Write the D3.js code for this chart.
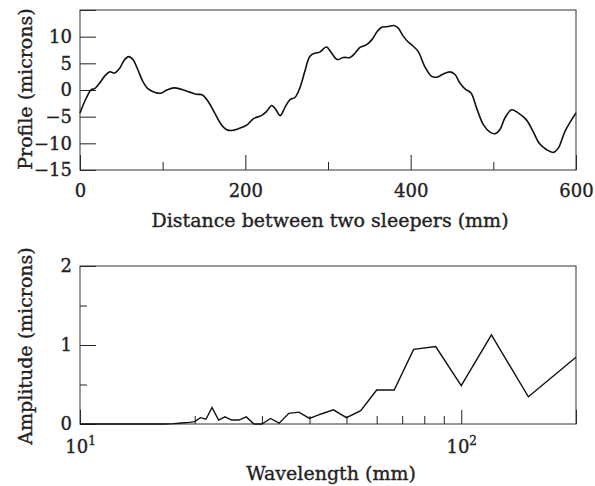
<!DOCTYPE html>
<html>
<head>
<meta charset="utf-8">
<script src="https://d3js.org/d3.v7.min.js"></script>
<style>
  body { margin: 0; background: #fff; }
  text { font-family: "DejaVu Serif", serif; fill: #222; stroke: #222; stroke-width: 0.35px; }
</style>
</head>
<body>
<svg id="chart" width="595" height="486"></svg>
<script>
// top panel: rail profile between two sleepers
const profileX = [0, 7.6, 13.7, 17.7, 23.8, 29.8, 35.9, 42, 48, 54, 59, 64, 70, 76, 82, 90, 97.6,
  104.5, 113.7, 122.6, 132.6, 140.7, 147.6, 154.8, 162.9, 171, 177, 183.9, 191, 201.6, 209.6,
  219.8, 225.8, 231.9, 237, 242, 248, 254, 260, 266, 272, 278, 284, 290, 298, 304.5, 311,
  318.5, 326.6, 332.6, 338.7, 346.8, 352.9, 359.7, 364.9, 373, 379.8, 385, 391, 397, 401,
  409, 417, 425, 431.5, 439.5, 447.6, 453.6, 459.6, 465.7, 473, 479.8, 487.9, 496, 502,
  508, 514, 522, 530, 540, 548, 556, 564.5, 572.5, 578.6, 586.7, 600];
const profileY = [-4.3, -1.5, 0.06, 0.25, 1.3, 2.6, 3.4, 3.2, 4.1, 5.7, 6.25, 5.7, 3.8, 1.6, 0.25, -0.4, -0.6,
  -0.06, 0.4, 0.13, -0.4, -0.8, -0.9, -2.1, -4.3, -6.5, -7.4, -7.6, -7.3, -6.6, -5.4,
  -4.75, -4.0, -2.9, -3.7, -4.8, -3.25, -1.8, -1.4, 0.4, 3.5, 6.3, 6.9, 7.1, 8.06, 6.9, 5.7,
  6.1, 6.1, 6.9, 8.0, 8.5, 9.4, 11.0, 11.75, 11.9, 12.1, 11.6, 10.1, 9.0, 8.5,
  7.25, 4.4, 2.6, 2.4, 3.0, 3.4, 2.9, 1.3, 0.2, -0.56, -3.4, -6.5, -7.9, -8.2,
  -7.4, -5.25, -3.7, -4.3, -5.6, -7.75, -10.1, -11.2, -11.7, -10.9, -7.75, -4.3];

// bottom panel: amplitude per wavelength (mm)
const waveLen = [200, 150, 120, 100, 85.7, 75, 66.7, 60, 54.5, 50, 46.2, 42.9, 40, 37.5, 35.3,
  33.3, 31.6, 30, 28.6, 27.3, 26.1, 25, 24, 23.1, 22.2, 21.4, 20.7, 20, 19.35, 18.75, 18.2,
  17.6, 16.7, 15, 12, 10];
const amplitude = [0.845, 0.345, 1.127, 0.485, 0.98, 0.945, 0.43, 0.43, 0.17, 0.08, 0.18, 0.127, 0.07, 0.15, 0.135,
  0.01, 0.07, 0, 0, 0.09, 0.05, 0.05, 0.09, 0.05, 0.21, 0.06, 0.08, 0.03, 0.02, 0.015, 0.01,
  0.005, 0, 0, 0, 0];

const profileMajorX = [0, 200, 400, 600];
const profileMinorX = [100, 300, 500];
const profileTicksY = [-15, -10, -5, 0, 5, 10, 15];
const ampMajorX = [10, 100, 200];
const ampMinorX = [20, 30, 40, 50, 60, 70, 80, 90];
const ampMajorY = [0, 1, 2];
const ampMinorY = [0.5, 1.5];

const svg = d3.select("#chart");
const left = 80, right = 576;
const FS = 18;     // tick labels
const TFS = 19;    // axis titles

function styleAxis(g) {
  g.select(".domain").remove();
  g.selectAll(".tick line").attr("stroke", "#222").attr("stroke-width", 1);
  g.selectAll(".tick text").attr("font-size", FS).attr("fill", "#222");
}

// ---- top panel ----
const t = { top: 10, bottom: 170 };
const x1 = d3.scaleLinear().domain([0, 600]).range([left, right]);
const y1 = d3.scaleLinear().domain([-15, 15]).range([t.bottom, t.top]);

svg.append("g").attr("transform", `translate(0,${t.bottom})`)
  .call(d3.axisBottom(x1).tickValues(profileMajorX).tickSizeInner(-15).tickSizeOuter(0).tickPadding(14))
  .call(styleAxis);
svg.append("g").attr("transform", `translate(0,${t.bottom})`)
  .call(d3.axisBottom(x1).tickValues(profileMinorX).tickSizeInner(-8).tickSizeOuter(0).tickFormat(""))
  .call(styleAxis);
svg.append("g").attr("transform", `translate(${left},0)`)
  .call(d3.axisLeft(y1).tickValues(profileTicksY).tickSizeInner(-16).tickSizeOuter(0).tickPadding(8)
    .tickFormat(d => d === 15 ? "" : d3.format("")(d).replace("-", "\u2212")))
  .call(styleAxis);

svg.append("rect").attr("x", left).attr("y", t.top).attr("width", right - left).attr("height", t.bottom - t.top)
  .attr("fill", "none").attr("stroke", "#333").attr("stroke-width", 1);

const line1 = d3.line().x(d => x1(d[0])).y(d => y1(d[1])).curve(d3.curveCatmullRom);
svg.append("path").datum(d3.zip(profileX, profileY))
  .attr("d", line1).attr("fill", "none").attr("stroke", "#111").attr("stroke-width", 1.6);

svg.append("text").attr("x", 330).attr("y", 227).attr("text-anchor", "middle")
  .attr("font-size", TFS).text("Distance between two sleepers (mm)");
svg.append("text").attr("transform", `translate(32,${(t.top + t.bottom) / 2 - 1}) rotate(-90)`)
  .attr("text-anchor", "middle").attr("font-size", TFS).text("Profile (microns)");

// ---- bottom panel ----
const b = { top: 266, bottom: 424 };
const x2 = d3.scaleLog().domain([10, 200]).range([left, right]);
const y2 = d3.scaleLinear().domain([0, 2]).range([b.bottom, b.top]);

svg.append("g").attr("transform", `translate(0,${b.bottom})`)
  .call(d3.axisBottom(x2).tickValues(ampMajorX).tickSizeInner(-14).tickSizeOuter(0).tickPadding(16))
  .call(styleAxis)
  .call(g => g.selectAll(".tick text").each(function (d) {
    const el = d3.select(this);
    el.text(null);
    if (d === 200) return;
    el.append("tspan").text("10");
    el.append("tspan").attr("dy", -8).attr("font-size", 12).text(Math.round(Math.log10(d)));
  }));
svg.append("g").attr("transform", `translate(0,${b.bottom})`)
  .call(d3.axisBottom(x2).tickValues(ampMinorX).tickSizeInner(-8).tickSizeOuter(0).tickFormat(""))
  .call(styleAxis);
svg.append("g").attr("transform", `translate(${left},0)`)
  .call(d3.axisLeft(y2).tickValues(ampMajorY).tickSizeInner(-16).tickSizeOuter(0).tickPadding(8).tickFormat(d3.format("d")))
  .call(styleAxis);
svg.append("g").attr("transform", `translate(${left},0)`)
  .call(d3.axisLeft(y2).tickValues(ampMinorY).tickSizeInner(-7).tickSizeOuter(0).tickFormat(""))
  .call(styleAxis);

svg.append("rect").attr("x", left).attr("y", b.top).attr("width", right - left).attr("height", b.bottom - b.top)
  .attr("fill", "none").attr("stroke", "#333").attr("stroke-width", 1);

const line2 = d3.line().x(d => x2(d[0])).y(d => y2(d[1]));
svg.append("path").datum(d3.zip(waveLen, amplitude))
  .attr("d", line2).attr("fill", "none").attr("stroke", "#111").attr("stroke-width", 1.4);

svg.append("text").attr("x", 331).attr("y", 480).attr("text-anchor", "middle")
  .attr("font-size", TFS).text("Wavelength (mm)");
svg.append("text").attr("transform", `translate(32,${(b.top + b.bottom) / 2 + 1}) rotate(-90)`)
  .attr("text-anchor", "middle").attr("font-size", TFS).text("Amplitude (microns)");
</script>
</body>
</html>
